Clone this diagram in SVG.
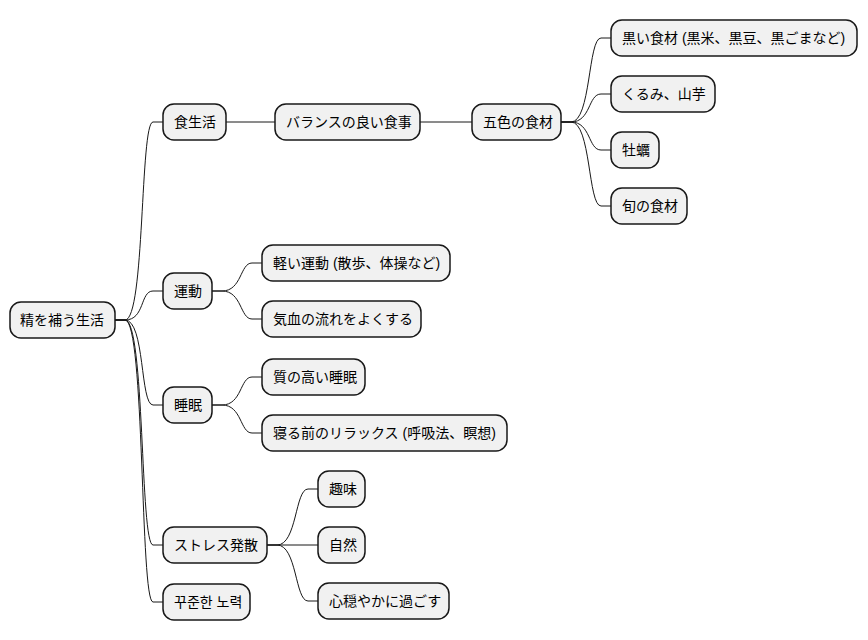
<svg xmlns="http://www.w3.org/2000/svg" width="868" height="640" viewBox="0 0 868 640">
<style>
.n rect{fill:#F1F1F1;stroke:#181818;stroke-width:1.5}
.n text{font-family:"Liberation Sans","Noto Sans CJK JP",sans-serif;font-size:14px;fill:#000;dominant-baseline:central}
.k text{font-family:"Liberation Sans","Noto Sans CJK KR",sans-serif}
#c path{fill:none;stroke:#181818;stroke-width:1}
</style>
<rect width="868" height="640" fill="#fff"/>
<g id="c">
<path d="M115,320 L125,320 C145,320 140,122 153,122 L163,122"/>
<path d="M115,320 L125,320 C145,320 140,291 153,291 L163,291"/>
<path d="M115,320 L125,320 C145,320 140,405 153,405 L163,405"/>
<path d="M115,320 L125,320 C145,320 140,545 153,545 L163,545"/>
<path d="M115,320 L125,320 C145,320 140,602 153,602 L163,602"/>
<path d="M226,122 L275,122"/>
<path d="M420,122 L472,122"/>
<path d="M561,122 L571,122 C591,122 588,38 601,38 L611,38"/>
<path d="M561,122 L571,122 C591,122 588,94 601,94 L611,94"/>
<path d="M561,122 L571,122 C591,122 588,150 601,150 L611,150"/>
<path d="M561,122 L571,122 C591,122 588,206 601,206 L611,206"/>
<path d="M212,291 L222,291 C242,291 240,263 252,263 L262,263"/>
<path d="M212,291 L222,291 C242,291 240,319 252,319 L262,319"/>
<path d="M212,405 L222,405 C242,405 240,377 252,377 L262,377"/>
<path d="M212,405 L222,405 C242,405 240,433 252,433 L262,433"/>
<path d="M267,545 L277,545 C297,545 295,489 308,489 L318,489"/>
<path d="M267,545 L318,545"/>
<path d="M267,545 L277,545 C297,545 295,601 308,601 L318,601"/>
</g>
<g id="root" class="n"><rect x="10" y="302" width="105" height="36" rx="11"/><text x="20" y="320">精を補う生活</text></g>
<g id="n1" class="n"><rect x="163" y="104" width="63" height="36" rx="11"/><text x="174" y="122">食生活</text></g>
<g id="n11" class="n"><rect x="275" y="104" width="145" height="36" rx="11"/><text x="286" y="122">バランスの良い食事</text></g>
<g id="n111" class="n"><rect x="472" y="104" width="89" height="36" rx="11"/><text x="483" y="122">五色の食材</text></g>
<g id="n1111" class="n"><rect x="611" y="20" width="246" height="36" rx="11"/><text x="622" y="38">黒い食材 (黒米、黒豆、黒ごまなど)</text></g>
<g id="n1112" class="n"><rect x="611" y="76" width="104" height="36" rx="11"/><text x="622" y="94">くるみ、山芋</text></g>
<g id="n1113" class="n"><rect x="611" y="132" width="48" height="36" rx="11"/><text x="622" y="150">牡蠣</text></g>
<g id="n1114" class="n"><rect x="611" y="188" width="76" height="36" rx="11"/><text x="622" y="206">旬の食材</text></g>
<g id="n2" class="n"><rect x="163" y="273" width="49" height="36" rx="11"/><text x="174" y="291">運動</text></g>
<g id="n21" class="n"><rect x="262" y="245" width="188" height="36" rx="11"/><text x="273" y="263">軽い運動 (散歩、体操など)</text></g>
<g id="n22" class="n"><rect x="262" y="301" width="159" height="36" rx="11"/><text x="273" y="319">気血の流れをよくする</text></g>
<g id="n3" class="n"><rect x="163" y="387" width="49" height="36" rx="11"/><text x="174" y="405">睡眠</text></g>
<g id="n31" class="n"><rect x="262" y="359" width="103" height="36" rx="11"/><text x="273" y="377">質の高い睡眠</text></g>
<g id="n32" class="n"><rect x="262" y="415" width="245" height="36" rx="11"/><text x="273" y="433">寝る前のリラックス (呼吸法、瞑想)</text></g>
<g id="n4" class="n"><rect x="163" y="527" width="104" height="36" rx="11"/><text x="174" y="545">ストレス発散</text></g>
<g id="n41" class="n"><rect x="318" y="471" width="47" height="36" rx="11"/><text x="329" y="489">趣味</text></g>
<g id="n42" class="n"><rect x="318" y="527" width="47" height="36" rx="11"/><text x="329" y="545">自然</text></g>
<g id="n43" class="n"><rect x="318" y="583" width="131" height="36" rx="11"/><text x="329" y="601">心穏やかに過ごす</text></g>
<g id="n5" class="n k"><rect x="163" y="584" width="87" height="36" rx="11"/><text x="174" y="602">꾸준한 노력</text></g>
</svg>
